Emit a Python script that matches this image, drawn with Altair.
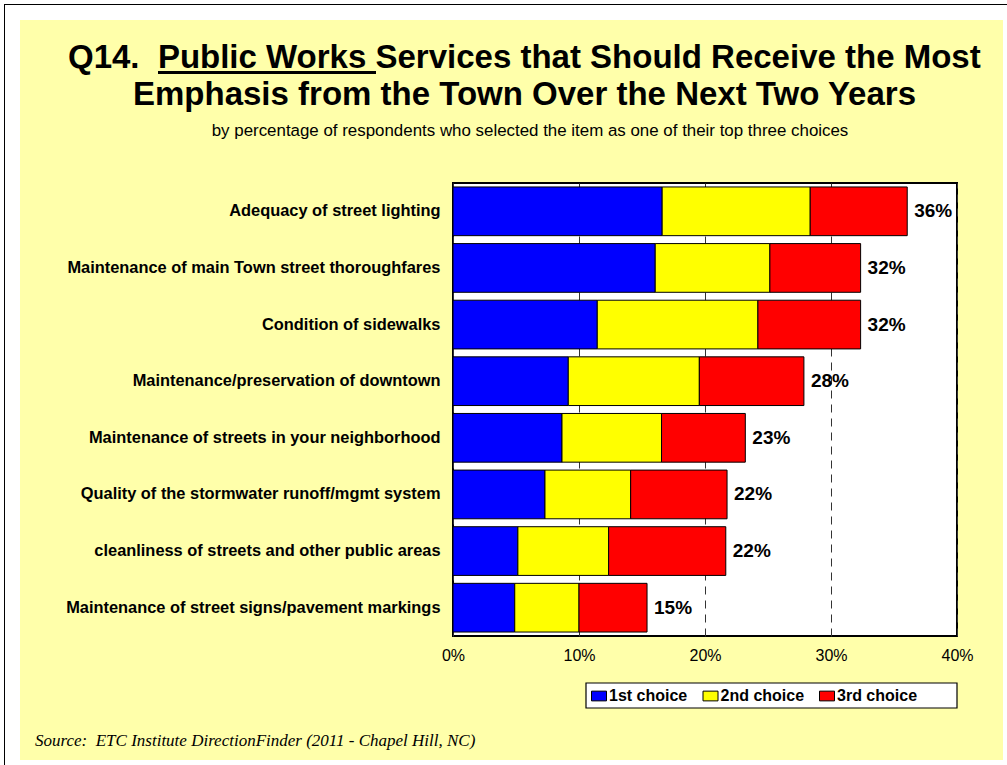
import altair as alt
import pandas as pd

# ---------------- data ----------------
categories = [
    "Adequacy of street lighting",
    "Maintenance of main Town street thoroughfares",
    "Condition of sidewalks",
    "Maintenance/preservation of downtown",
    "Maintenance of streets in your neighborhood",
    "Quality of the stormwater runoff/mgmt system",
    "cleanliness of streets and other public areas",
    "Maintenance of street signs/pavement markings",
]
series = ["1st choice", "2nd choice", "3rd choice"]
first_choice = [16.6, 16.05, 11.45, 9.15, 8.65, 7.3, 5.15, 4.9]
second_choice = [11.75, 9.1, 12.75, 10.4, 7.9, 6.8, 7.2, 5.1]
third_choice = [7.7, 7.2, 8.15, 8.3, 6.65, 7.65, 9.3, 5.4]
total_labels = ["36%", "32%", "32%", "28%", "23%", "22%", "22%", "15%"]
x_ticks = [0, 10, 20, 30, 40]
colors = ["#0000FF", "#FFFF00", "#FF0000"]

title_line1 = "Q14.\u00a0 Public Works Services that Should Receive the Most"
title_line2 = "Emphasis from the Town Over the Next Two Years"
subtitle = "by percentage of respondents who selected the item as one of their top three choices"
source = "Source:\u00a0 ETC Institute DirectionFinder (2011 - Chapel Hill, NC)"

SANS = "Liberation Sans, Arial, sans-serif"
SERIF = "Liberation Serif, Times New Roman, serif"

# ---------------- tables ----------------
rows = []
for i, item in enumerate(categories):
    for k, vals in enumerate([first_choice, second_choice, third_choice]):
        rows.append({"item": item, "choice": series[k], "rank": k, "pct": vals[i]})
df = pd.DataFrame(rows)
totals = pd.DataFrame({
    "item": categories,
    "total": [a + b + c for a, b, c in zip(first_choice, second_choice, third_choice)],
    "label": total_labels,
})

W, H = 504, 453
PL, PT = 453, 183

x_axis = alt.Axis(
    values=x_ticks, labelExpr="datum.value + '%'", grid=True, gridDash=[8, 6],
    gridColor="#333333", gridWidth=1, ticks=False, domain=False, title=None,
    labelPadding=11, labelFont=SANS, labelFontSize=16, labelColor="black",
    labelFlush=False, labelBound=False,
)
x_scale = alt.Scale(domain=[0, 40], nice=False, zero=True)
y_axis = alt.Axis(
    title=None, ticks=False, domain=False, labelPadding=13, labelFont=SANS,
    labelFontSize=16.4, labelFontWeight="bold", labelColor="black", labelLimit=600,
    grid=False,
)
y_scale = alt.Scale(paddingInner=0.14, paddingOuter=0.07)

bars = alt.Chart(df).mark_bar(stroke="black", strokeWidth=1).encode(
    x=alt.X("pct:Q", stack="zero", scale=x_scale, axis=x_axis),
    y=alt.Y("item:N", sort=categories, scale=y_scale, axis=y_axis),
    color=alt.Color(
        "choice:N",
        scale=alt.Scale(domain=series, range=colors),
        legend=alt.Legend(
            orient="none", legendX=138, legendY=505, direction="horizontal",
            title=None, padding=0,
            symbolType="M-1,-0.65L1,-0.65L1,0.65L-1,0.65Z", symbolSize=225,
            symbolStrokeColor="black", symbolStrokeWidth=1, symbolOpacity=1,
            labelFont=SANS, labelFontSize=16, labelFontWeight="bold",
            labelColor="black", labelOffset=2, columnPadding=12.5,
        ),
    ),
    order=alt.Order("rank:Q"),
)

labels = alt.Chart(totals).mark_text(
    align="left", baseline="middle", dx=7, font=SANS, fontSize=19,
    fontWeight="bold", color="black",
).encode(
    x=alt.X("total:Q", scale=x_scale, axis=x_axis),
    y=alt.Y("item:N", sort=categories, scale=y_scale, axis=y_axis),
    text="label:N",
)

one = pd.DataFrame({"k": [0]})


def box(x1, x2, y1, y2, **kw):
    return alt.Chart(one).mark_rect(**kw).encode(
        x=alt.value(x1 - PL), x2=alt.value(x2 - PL),
        y=alt.value(y1 - PT), y2=alt.value(y2 - PT),
    )


def rule(x1, x2, y1, y2, **kw):
    return alt.Chart(one).mark_rule(**kw).encode(
        x=alt.value(x1 - PL), x2=alt.value(x2 - PL),
        y=alt.value(y1 - PT), y2=alt.value(y2 - PT),
    )


def text(t, x, y, **kw):
    return alt.Chart(pd.DataFrame({"t": [t]})).mark_text(baseline="alphabetic", **kw).encode(
        x=alt.value(x - PL), y=alt.value(y - PT), text="t:N",
    )


# white frame around the yellow page
frame = [
    box(0, 1007, 0, 20, fill="white"),
    box(0, 20, 0, 765, fill="white"),
    box(1003, 1007, 0, 765, fill="white"),
    box(0, 1007, 760, 765, fill="white"),
    rule(4, 1007, 4.5, 4.5, color="black", strokeWidth=1),
    rule(4.5, 4.5, 4, 765, color="black", strokeWidth=1),
]

legend_box = box(586, 957, 683, 708, fill="white", stroke="black", strokeWidth=1.2)

title_x = 68
underline = rule(158, 376, 72.5, 72.5, color="black", strokeWidth=3.2)
t1 = text(title_line1, title_x, 67.5, align="left", font=SANS, fontSize=33, fontWeight="bold", color="black")
t2 = text(title_line2, 524.5, 105, align="center", font=SANS, fontSize=33, fontWeight="bold", color="black")
st = text(subtitle, 530, 136, align="center", font=SANS, fontSize=16.9, color="black")
src = text(source, 35, 746, align="left", font=SERIF, fontSize=17, fontStyle="italic", color="black")

chart = alt.layer(
    *frame, legend_box, bars, labels, underline, t1, t2, st, src
).properties(
    width=W, height=H,
    autosize=alt.AutoSizeParams(type="none"),
    padding={"left": PL, "top": PT, "right": 1007 - PL - W, "bottom": 765 - PT - H},
    background="#FFFFAA",
).configure_view(
    fill="white", stroke="black", strokeWidth=2,
)

chart.save("out.html", embed_options={"renderer": "svg", "actions": False})
